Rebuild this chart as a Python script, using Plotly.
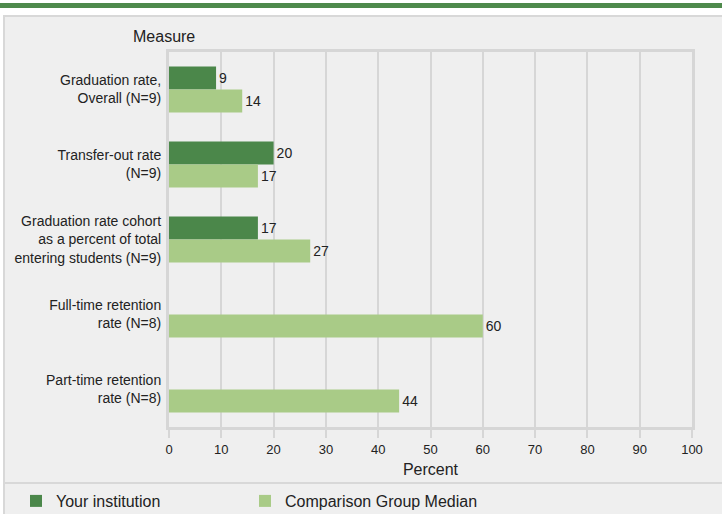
import plotly.graph_objects as go

categories = [
    "Graduation rate,<br>Overall (N=9)",
    "Transfer-out rate<br>(N=9)",
    "Graduation rate cohort<br>as a percent of total<br>entering students (N=9)",
    "Full-time retention<br>rate (N=8)",
    "Part-time retention<br>rate (N=8)",
]
your_institution = [9, 20, 17, None, None]
comparison_median = [14, 17, 27, 60, 44]
x_ticks = [0, 10, 20, 30, 40, 50, 60, 70, 80, 90, 100]

DARK = "#4b874a"
LIGHT = "#a9cb87"
GRID = "#d6d6d6"
FONT = "Liberation Sans, Arial, sans-serif"

W, H = 722, 514
L, R, T, B = 169, 30, 52, 87
pw, ph = W - L - R, H - T - B

def px(x):
    return (x - L) / pw

def py(y):
    return (H - B - y) / ph

fig = go.Figure()
fig.add_trace(go.Bar(
    y=categories, x=your_institution, orientation="h", name="Your institution",
    marker=dict(color=DARK, line=dict(width=0)),
    text=[("" if v is None else str(v)) for v in your_institution],
    textposition="outside", textfont=dict(color="#222", size=14, family=FONT),
    cliponaxis=False, legend="legend",
))
fig.add_trace(go.Bar(
    y=categories, x=comparison_median, orientation="h", name="Comparison Group Median",
    marker=dict(color=LIGHT, line=dict(width=0)),
    text=[str(v) for v in comparison_median],
    textposition="outside", textfont=dict(color="#222", size=14, family=FONT),
    cliponaxis=False, legend="legend2",
))

shapes = [
    dict(type="rect", xref="paper", yref="paper", x0=px(4), x1=px(730), y0=py(16), y1=py(520),
         fillcolor="#efefef", line=dict(color="#d8d8d8", width=2), layer="below"),
    dict(type="rect", xref="paper", yref="paper", x0=px(-5), x1=px(730), y0=py(3), y1=py(8),
         fillcolor="#4e8a4c", line=dict(width=0), layer="below"),
    dict(type="line", xref="paper", yref="paper", x0=px(4), x1=px(730), y0=py(483), y1=py(483),
         line=dict(color="#d8d8d8", width=2), layer="below"),
]

legend_common = dict(orientation="h", xanchor="left", yanchor="middle",
                     bgcolor="rgba(0,0,0,0)",
                     font=dict(size=16, family=FONT, color="#222"))

fig.update_layout(
    width=W, height=H,
    margin=dict(l=L, r=R, t=T, b=B, autoexpand=False),
    paper_bgcolor="white", plot_bgcolor="#efefef",
    font=dict(family=FONT, size=13, color="#222"),
    barmode="group", bargap=0.387, bargroupgap=0,
    shapes=shapes,
    showlegend=True,
    legend=dict(x=px(16), y=py(501), **legend_common),
    legend2=dict(x=px(245), y=py(501), **legend_common),
    annotations=[
        dict(text="Measure", xref="paper", yref="paper", x=px(164), y=py(37),
             xanchor="center", yanchor="middle", showarrow=False,
             font=dict(size=16, family=FONT, color="#222")),
    ],
    xaxis=dict(
        range=[0, 100], tickvals=x_ticks, ticktext=[str(v) for v in x_ticks],
        showgrid=True, gridcolor=GRID, gridwidth=2,
        showline=True, linecolor=GRID, linewidth=3, mirror=True,
        ticks="outside", ticklen=8, tickwidth=2, tickcolor=GRID,
        zeroline=False, tickfont=dict(size=13),
        title=dict(text="Percent", font=dict(size=16), standoff=9),
    ),
    yaxis=dict(
        autorange="reversed", showgrid=False,
        showline=True, linecolor=GRID, linewidth=3, mirror=True,
        ticks="", ticklabelstandoff=2, tickfont=dict(size=14),
    ),
)

fig.write_html("out.html", config={"displayModeBar": False},
               post_script="document.body.style.margin='0';document.body.style.overflow='hidden';")
